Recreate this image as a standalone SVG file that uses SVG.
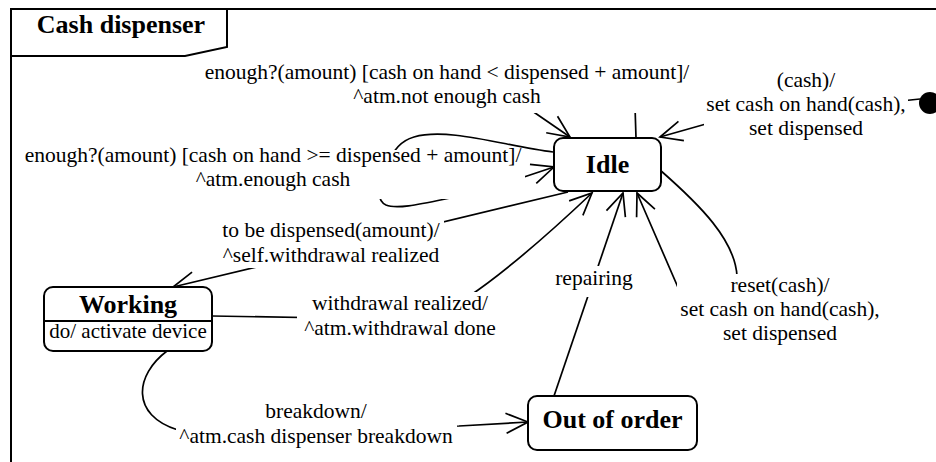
<svg xmlns="http://www.w3.org/2000/svg" width="936" height="462" viewBox="0 0 936 462" font-family="'Liberation Serif', 'Times New Roman', Times, 'DejaVu Serif', serif">
  <style>
    .frame { fill: none; stroke: #000; stroke-width: 2; }
    .state { fill: #fff; stroke: #000; stroke-width: 2; }
    .edge { fill: none; stroke: #000; stroke-width: 1.7; marker-end: url(#open); }
    .bg { fill: #fff; stroke: none; }
    .lbl { font-size: 21.5px; text-anchor: middle; fill: #000; }
    .name { font-size: 26px; font-weight: bold; text-anchor: middle; fill: #000; }
    .act { font-size: 21px; text-anchor: middle; fill: #000; }
  </style>
  <defs>
    <!-- open stick arrowhead: two barbs meeting at the tip -->
    <marker id="open" markerUnits="userSpaceOnUse" viewBox="-24 -12 26 24" refX="0" refY="0" markerWidth="26" markerHeight="24" orient="auto" overflow="visible">
      <path d="M-22,-10 L0,0 L-22,10" fill="none" stroke="#000" stroke-width="1.7"/>
    </marker>
  </defs>

  <rect width="936" height="462" fill="#fff"/>

  <!-- package frame with name tab -->
  <g id="frame">
    <path class="frame" d="M11,462 L11,9 L936,9"/>
    <path class="frame" d="M11,56 L185,56 L227,47 L227,9"/>
    <text x="121" y="33" class="name">Cash dispenser</text>
  </g>

  <g id="connectors">
    <!-- initial state -> Idle -->
    <path class="edge" d="M920,99 L720,120 L660,137"/>
    <!-- Idle self-loop: not enough cash -->
    <path class="edge" d="M636,138 L635,106 C633,80 520,78 522,104 L570,137"/>
    <!-- Idle self-loop: enough cash -->
    <path class="edge" d="M553,152 C505,146 448,127 414,137 C400,141 392,152 388,165 C384,178 372,198 386,205 C398,210 425,203 460,196 L524,177 L554,167"/>
    <!-- Idle -> Working -->
    <path class="edge" d="M568,192 L173,287"/>
    <!-- Working -> Idle -->
    <path class="edge" d="M212,316 L330,318 L468,297 C505,272 555,228 592,193"/>
    <!-- Out of order -> Idle -->
    <path class="edge" d="M554,396 L623,193"/>
    <!-- Idle self-loop: reset -->
    <path class="edge" d="M660,170 C700,205 735,240 737,276 L680,292 L637,193"/>
    <!-- Working -> Out of order -->
    <path class="edge" d="M167,351 C135,375 130,415 178,430 L459,426 L528,422"/>
  </g>

  <g id="labels">
    <rect class="bg" x="201" y="62" width="492" height="51"/>
    <text class="lbl"><tspan x="447" y="79">enough?(amount) [cash on hand &lt; dispensed + amount]/</tspan><tspan x="447" y="103">^atm.not enough cash</tspan></text>

    <rect class="bg" x="21" y="150" width="504" height="49"/>
    <text class="lbl"><tspan x="273" y="162">enough?(amount) [cash on hand &gt;= dispensed + amount]/</tspan><tspan x="273" y="186">^atm.enough cash</tspan></text>

    <rect class="bg" x="219" y="221" width="225" height="47"/>
    <text class="lbl"><tspan x="331" y="237">to be dispensed(amount)/</tspan><tspan x="331" y="262">^self.withdrawal realized</tspan></text>

    <rect class="bg" x="297" y="292" width="203" height="49"/>
    <text class="lbl"><tspan x="400" y="310">withdrawal realized/</tspan><tspan x="400" y="335">^atm.withdrawal done</tspan></text>

    <rect class="bg" x="553" y="266" width="82" height="31"/>
    <text class="lbl" x="594" y="285">repairing</text>

    <rect class="bg" x="176" y="400" width="281" height="49"/>
    <text class="lbl"><tspan x="316" y="418">breakdown/</tspan><tspan x="316" y="443">^atm.cash dispenser breakdown</tspan></text>

    <rect class="bg" x="704" y="70" width="204" height="71"/>
    <text class="lbl"><tspan x="806" y="87">(cash)/</tspan><tspan x="806" y="111">set cash on hand(cash),</tspan><tspan x="806" y="135">set dispensed</tspan></text>

    <rect class="bg" x="677" y="274" width="205" height="72"/>
    <text class="lbl"><tspan x="780" y="292">reset(cash)/</tspan><tspan x="780" y="316">set cash on hand(cash),</tspan><tspan x="780" y="340">set dispensed</tspan></text>
  </g>

  <g id="initial">
    <circle cx="930" cy="103" r="11" fill="#000"/>
  </g>

  <g id="idle">
    <rect class="state" x="554" y="138" width="107" height="53" rx="9"/>
    <text class="name" x="607.5" y="173">Idle</text>
  </g>

  <g id="working">
    <rect class="state" x="44" y="287" width="168" height="64" rx="9"/>
    <line x1="44" y1="321" x2="212" y2="321" stroke="#000" stroke-width="2"/>
    <text class="name" x="128" y="313">Working</text>
    <text class="act" x="128" y="338">do/ activate device</text>
  </g>

  <g id="out-of-order">
    <rect class="state" x="528" y="396" width="169" height="54" rx="9"/>
    <text class="name" x="612.5" y="428">Out of order</text>
  </g>
</svg>
